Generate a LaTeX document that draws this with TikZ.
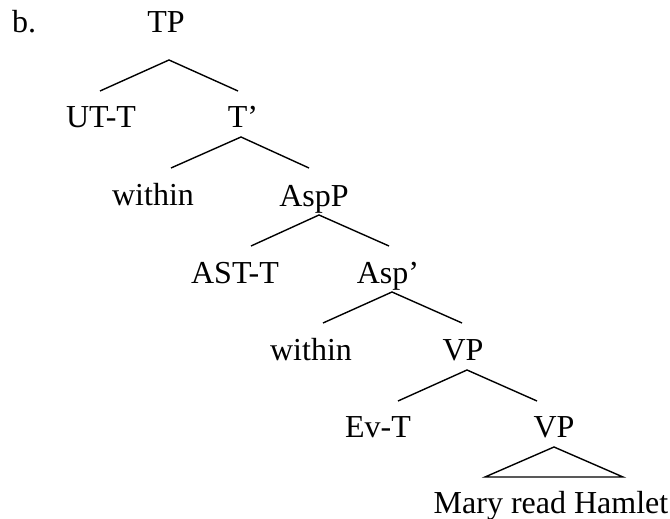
\documentclass[tikz,border=0pt]{standalone}
\usepackage{fontspec}
\setmainfont{Liberation Serif}
\begin{document}
\begin{tikzpicture}[x=1pt,y=-1pt,
  lbl/.style={anchor=base,inner sep=0pt,font=\fontsize{32}{38}\selectfont},
  edge/.style={line width=1.4pt,line join=miter}]
\useasboundingbox (0,0) rectangle (670,519);
% labels
\node[lbl,anchor=base west] (b) at (12,33) {b.};
\node[lbl] (TP) at (166,33) {TP};
\node[lbl] (UTT) at (101,128) {UT-T};
\node[lbl] (Tb) at (243,128) {T’};
\node[lbl] (w1) at (153,205) {within};
\node[lbl] (AspP) at (314,206) {AspP};
\node[lbl] (ASTT) at (235,283) {AST-T};
\node[lbl] (Aspb) at (388,283) {Asp’};
\node[lbl] (w2) at (311,360) {within};
\node[lbl] (VP1) at (463,360) {VP};
\node[lbl] (EvT) at (378,437) {Ev-T};
\node[lbl] (VP2) at (554,437) {VP};
\node[lbl] (MRH) at (551,513) {Mary read Hamlet};
% branch points
\coordinate (TPa) at (169,60);
\coordinate (UTTt) at (100,91);
\coordinate (Tbt) at (238,91);
\coordinate (Tba) at (241,137);
\coordinate (w1t) at (171,168);
\coordinate (AspPt) at (309,168);
\coordinate (AspPa) at (319,215);
\coordinate (ASTTt) at (251,246);
\coordinate (Aspbt) at (389,246);
\coordinate (Aspba) at (392,292);
\coordinate (w2t) at (323,323);
\coordinate (VP1t) at (462,323);
\coordinate (VP1a) at (467,370);
\coordinate (EvTt) at (398,401);
\coordinate (VP2t) at (537,401);
\coordinate (VP2a) at (554,447);
\coordinate (MRHl) at (485,477);
\coordinate (MRHr) at (623,477);
% connectors
\draw[edge] (UTTt) -- (TPa) -- (Tbt);
\draw[edge] (w1t) -- (Tba) -- (AspPt);
\draw[edge] (ASTTt) -- (AspPa) -- (Aspbt);
\draw[edge] (w2t) -- (Aspba) -- (VP1t);
\draw[edge] (EvTt) -- (VP1a) -- (VP2t);
\draw[edge] (VP2a) -- (MRHl) -- (MRHr) -- cycle;
\end{tikzpicture}
\end{document}
